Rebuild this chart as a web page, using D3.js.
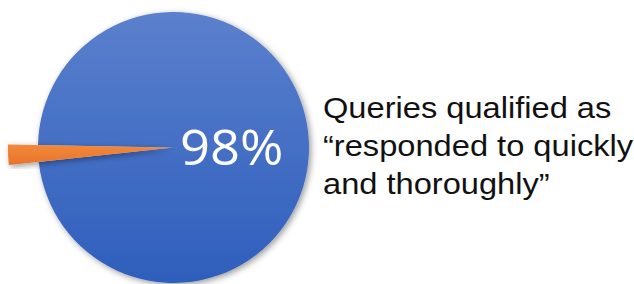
<!DOCTYPE html>
<html>
<head>
<meta charset="utf-8">
<script src="https://cdn.jsdelivr.net/npm/d3@7"></script>
<style>
  body { margin: 0; background: #fff; }
</style>
</head>
<body>
<div id="chart"></div>
<script>
// chart data
var categories = ["Responded quickly and thoroughly", "Other"];
var values = [98, 2];
var colors = ["blue", "orange"];
var centerLabel = "98%";
var captionLines = ["Queries qualified as", "\u201Cresponded to quickly", "and thoroughly\u201D"];

var width = 634, height = 284;
var cx = 173.5, cy = 147.5, radius = 135.5;

var svg = d3.select("#chart").append("svg")
    .attr("width", width)
    .attr("height", height);

var defs = svg.append("defs");

// vertical gradients like the office style fill
var blueGrad = defs.append("linearGradient")
    .attr("id", "blueGrad")
    .attr("gradientUnits", "userSpaceOnUse")
    .attr("x1", 0).attr("y1", -radius)
    .attr("x2", 0).attr("y2", radius);
blueGrad.append("stop").attr("offset", "0%").attr("stop-color", "#5b80cd");
blueGrad.append("stop").attr("offset", "100%").attr("stop-color", "#2e5ebc");

var orangeGrad = defs.append("linearGradient")
    .attr("id", "orangeGrad")
    .attr("x1", 0).attr("y1", 0)
    .attr("x2", 0).attr("y2", 1);
orangeGrad.append("stop").attr("offset", "0%").attr("stop-color", "#f28a3c");
orangeGrad.append("stop").attr("offset", "100%").attr("stop-color", "#e8732a");

var shadow = defs.append("filter")
    .attr("id", "shadow")
    .attr("x", "-20%").attr("y", "-20%")
    .attr("width", "140%").attr("height", "140%");
shadow.append("feDropShadow")
    .attr("dx", 2).attr("dy", 2)
    .attr("stdDeviation", 3)
    .attr("flood-color", "#000")
    .attr("flood-opacity", 0.4);

// pie layout, rotated so the small slice points left
var start = -88.9 * Math.PI / 180;
var pie = d3.pie()
    .sort(null)
    .value(function(d) { return d; })
    .startAngle(start)
    .endAngle(start + 2 * Math.PI);

var arcs = pie(values);

var arcMain = d3.arc().innerRadius(0).outerRadius(radius);
var arcSmall = d3.arc().innerRadius(0).outerRadius(radius * 1.2);

var g = svg.append("g")
    .attr("transform", "translate(" + cx + "," + cy + ")");

g.selectAll("path.slice")
    .data(arcs)
    .enter().append("path")
    .attr("class", "slice")
    .attr("filter", "url(#shadow)")
    .attr("transform", function(d, i) {
      if (i == 0) return null;
      var mid = (d.startAngle + d.endAngle) / 2;
      return "translate(" + (Math.sin(mid) * 3) + "," + (-Math.cos(mid) * 3) + ")";
    })
    .attr("d", function(d, i) { return i == 0 ? arcMain(d) : arcSmall(d); })
    .style("fill", function(d, i) { return colors[i] == "blue" ? "url(#blueGrad)" : "url(#orangeGrad)"; })
    .append("title")
    .text(function(d, i) { return categories[i] + ": " + values[i] + "%"; });

// big percentage inside pie (source text is slightly stretched)
svg.append("text")
    .attr("transform", "translate(180,165) scale(1.05,1)")
    .style("font-family", "'Open Sans', sans-serif")
    .style("font-size", "50px")
    .style("fill", "#fff")
    .text(centerLabel);

// caption on the right
var caption = svg.append("text")
    .attr("transform", "translate(323,118) scale(1.088,1)")
    .style("font-family", "'Liberation Sans', Arial, sans-serif")
    .style("font-size", "30px")
    .style("fill", "#111");

caption.selectAll("tspan")
    .data(captionLines)
    .enter().append("tspan")
    .attr("x", 0)
    .attr("dy", function(d, i) { return i == 0 ? 0 : 38; })
    .text(function(d) { return d; });
</script>
</body>
</html>
